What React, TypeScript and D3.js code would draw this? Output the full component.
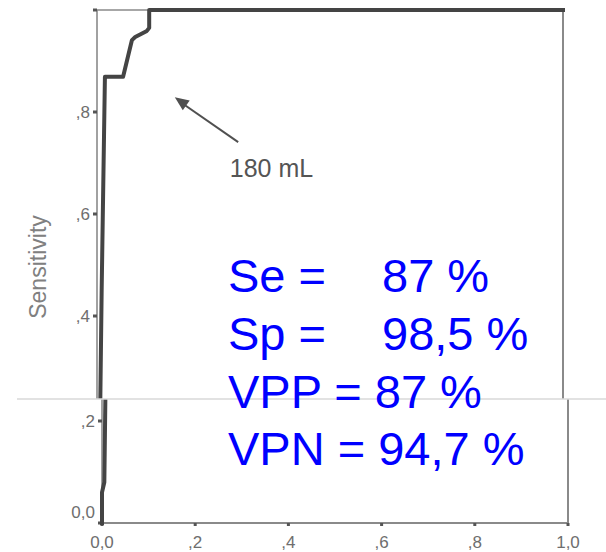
import React from "react";
import * as d3 from "d3";

// ROC curve for the 180 mL threshold (1 - specificity, sensitivity)
const rocFpr = [0, 0, 0.005, 0.01, 0.015, 0.017, 0.056, 0.075, 0.082, 0.107, 0.112, 0.112, 1];
const rocTpr = [0, 0.06, 0.08, 0.45, 0.75, 0.869, 0.869, 0.941, 0.947, 0.959, 0.965, 1, 1];

const xTicks = [0, 0.2, 0.4, 0.6, 0.8, 1];
const xTickLabels = ["0,0", ",2", ",4", ",6", ",8", "1,0"];
const yTicks = [0, 0.2, 0.4, 0.6, 0.8, 1];
const yTickLabels = ["0,0", ",2", ",4", ",6", ",8", ""];

const statLabels = ["Se =", "Sp =", "VPP = 87 %", "VPN = 94,7 %"];
const statValues = ["87 %", "98,5 %", "", ""];

const annotationText = "180 mL";
const yAxisTitle = "Sensitivity";

const W = 606;
const H = 552;
const SEAM = 399;
const FONT = "'Liberation Sans', Arial, Helvetica, sans-serif";

const x = d3.scaleLinear().domain([0, 1]).range([97, 563]);
const y = d3.scaleLinear().domain([0, 1]).range([520, 10]);

function ChartBody({ part }: { part: "top" | "bottom" }) {
  const pts: [number, number][] = rocFpr.map((f, i) => [f, rocTpr[i]]);
  const line = d3
    .line<[number, number]>()
    .x((d) => x(d[0]))
    .y((d) => y(d[1]));
  const axisColor = "#8a8a8a";
  const tickColor = "#555";
  const labelColor = "#6e6e6e";
  const isTop = part === "top";
  return (
    <g>
      {/* frame */}
      <line x1={x(0)} x2={x(1)} y1={y(1)} y2={y(1)} stroke={axisColor} strokeWidth={1.6} />
      <line x1={x(1)} x2={x(1)} y1={y(1)} y2={y(0)} stroke={axisColor} strokeWidth={2} />
      <line x1={x(0)} x2={x(1)} y1={y(0)} y2={y(0)} stroke={axisColor} strokeWidth={2} />
      <line x1={x(0)} x2={x(0)} y1={y(1)} y2={y(0)} stroke={axisColor} strokeWidth={1.6} />
      {/* y ticks */}
      {yTicks.map((t, i) => (
        <g key={"yt" + i}>
          <rect x={x(0) - 4} y={y(t) - 1.5} width={4} height={3} fill={tickColor} />
          {yTickLabels[i] && (t > 0.3) === isTop && (
            <text
              x={x(0) - 7}
              y={t === 0 ? y(t) - 11 : y(t)}
              textAnchor="end"
              dominantBaseline="central"
              fontSize={17}
              fill={labelColor}
              fontFamily={FONT}
            >
              {yTickLabels[i]}
            </text>
          )}
        </g>
      ))}
      {/* x ticks */}
      {xTicks.map((t, i) => (
        <g key={"xt" + i}>
          <rect x={x(t) - 1.5} y={y(0)} width={3} height={3} fill={tickColor} />
          {!isTop && (
            <text
              x={x(t)}
              y={y(0) + 19}
              textAnchor="middle"
              dominantBaseline="central"
              fontSize={17}
              fill={labelColor}
              fontFamily={FONT}
            >
              {xTickLabels[i]}
            </text>
          )}
        </g>
      ))}
      {/* axis title */}
      {isTop && (
        <text
          transform={`translate(38,${y(0.5) + 2}) rotate(-90)`}
          textAnchor="middle"
          dominantBaseline="central"
          fontSize={23}
          fill="#808080"
          fontFamily={FONT}
        >
          {yAxisTitle}
        </text>
      )}
      {/* ROC curve */}
      <path
        d={line(pts) || ""}
        fill="none"
        stroke="#444"
        strokeWidth={4}
        strokeLinejoin="round"
        strokeLinecap="square"
      />
      {/* annotation arrow */}
      <line
        x1={x(0.303)}
        y1={y(0.741)}
        x2={x(0.175)}
        y2={y(0.822)}
        stroke="#505050"
        strokeWidth={2}
      />
      <path
        d={(() => {
          const tx = x(0.167);
          const ty = y(0.829);
          const ang = Math.atan2(y(0.741) - ty, x(0.303) - tx);
          const len = 14;
          const wid = 6;
          const bx = tx + Math.cos(ang) * len;
          const by = ty + Math.sin(ang) * len;
          const px = -Math.sin(ang) * wid;
          const py = Math.cos(ang) * wid;
          return `M${tx},${ty}L${bx + px},${by + py}L${bx - px},${by - py}Z`;
        })()}
        fill="#505050"
      />
      {isTop && (
        <text x={x(0.285)} y={y(0.673)} fontSize={25} fill="#555" fontFamily={FONT}>
          {annotationText}
        </text>
      )}
    </g>
  );
}

export default function App() {
  const statBaseline = [292, 350, 408, 465];
  return (
    <svg
      width={W}
      height={H}
      viewBox={`0 0 ${W} ${H}`}
      style={{ position: "absolute", left: 0, top: 0, background: "#fff" }}
    >
      <defs>
        <clipPath id="clipTop">
          <rect x={0} y={0} width={W} height={SEAM} />
        </clipPath>
        <clipPath id="clipBottom">
          <rect x={0} y={SEAM} width={W} height={H - SEAM} />
        </clipPath>
      </defs>
      <rect x={0} y={0} width={W} height={H} fill="#fff" />
      <g clipPath="url(#clipTop)">
        <ChartBody part="top" />
      </g>
      <g clipPath="url(#clipBottom)">
        <g transform="translate(5,3)">
          <ChartBody part="bottom" />
        </g>
      </g>
      <line x1={17} x2={W} y1={SEAM} y2={SEAM} stroke="#d9d9d9" strokeWidth={1.5} />
      {statLabels.map((s, i) => (
        <text
          key={"st" + i}
          x={228}
          y={statBaseline[i]}
          fontSize={47}
          fill="#0000ff"
          fontFamily={FONT}
        >
          {s}
          {statValues[i] && <tspan x={382}>{statValues[i]}</tspan>}
        </text>
      ))}
    </svg>
  );
}
